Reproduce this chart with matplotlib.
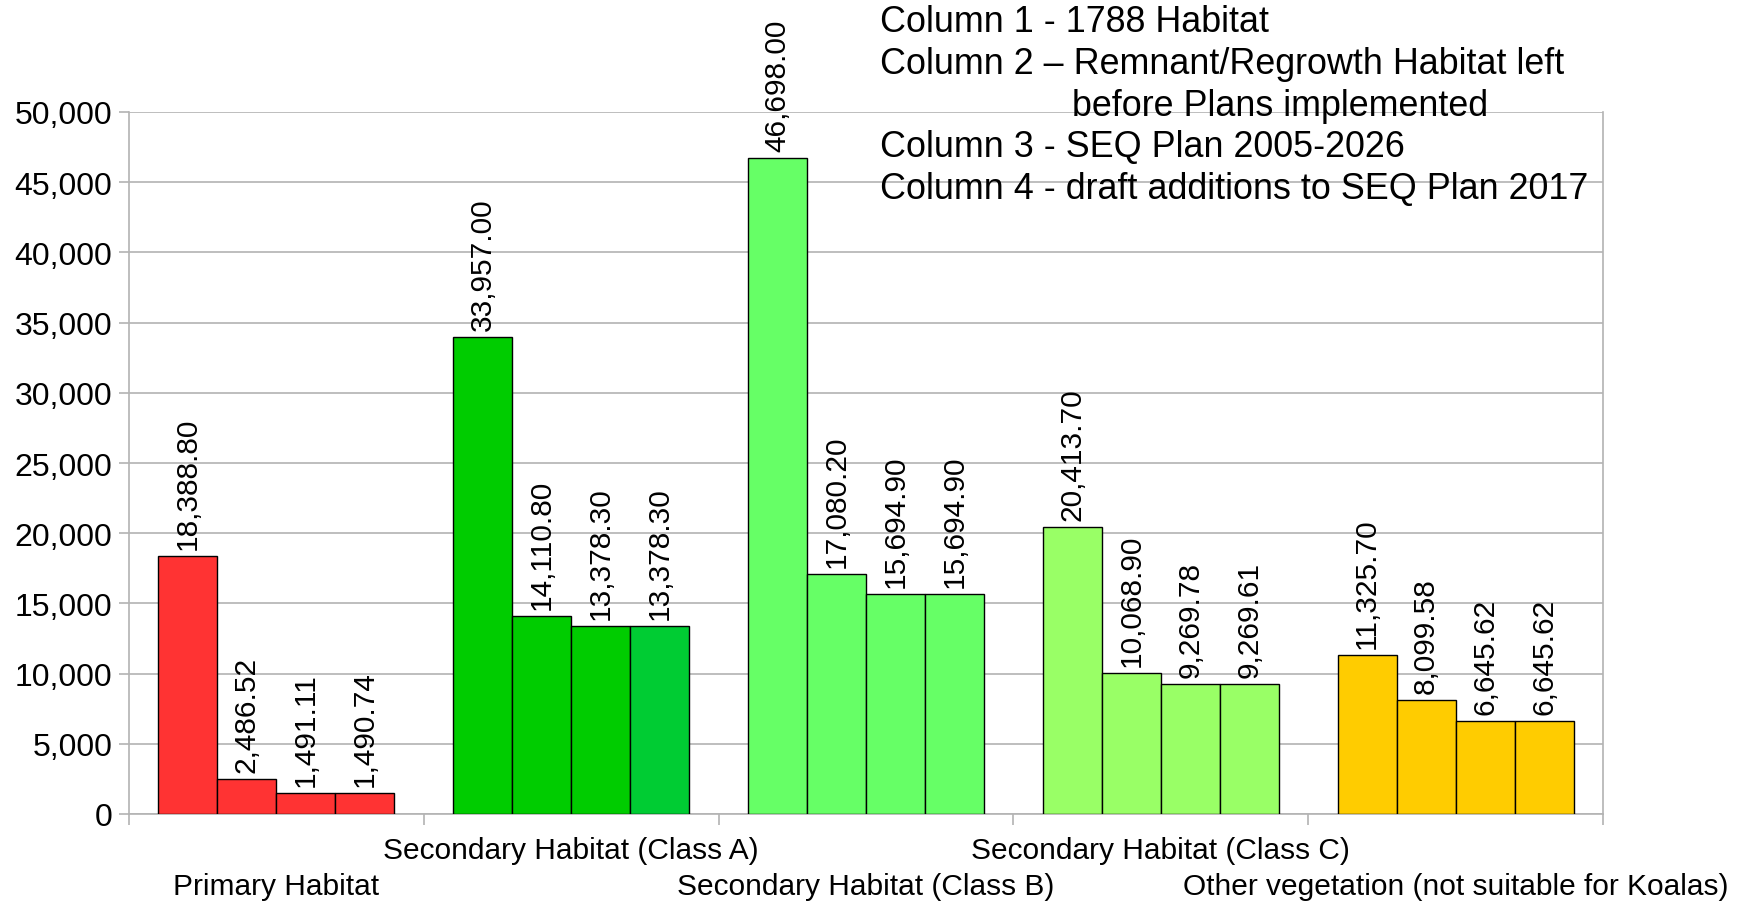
import matplotlib.pyplot as plt
import numpy as np
from matplotlib.ticker import FuncFormatter, MultipleLocator

categories = ["Primary Habitat", "Secondary Habitat (Class A)",
              "Secondary Habitat (Class B)", "Secondary Habitat (Class C)",
              "Other vegetation (not suitable for Koalas)"]

col1 = [18388.80, 33957.00, 46698.00, 20413.70, 11325.70]
col2 = [2486.52, 14110.80, 17080.20, 10068.90, 8099.58]
col3 = [1491.11, 13378.30, 15694.90, 9269.78, 6645.62]
col4 = [1490.74, 13378.30, 15694.90, 9269.61, 6645.62]

# one colour per bar (category x column)
bar_colors = [
    ["#ff3333", "#ff3333", "#ff3333", "#ff3333"],
    ["#00cc00", "#00cc00", "#00cc00", "#00cc33"],
    ["#66ff66", "#66ff66", "#66ff66", "#66ff66"],
    ["#99ff66", "#99ff66", "#99ff66", "#99ff66"],
    ["#ffcc00", "#ffcc00", "#ffcc00", "#ffcc00"],
]

legend_lines = ["Column 1 - 1788 Habitat",
                "Column 2 \u2013 Remnant/Regrowth Habitat left",
                "before Plans implemented",
                "Column 3 - SEQ Plan 2005-2026",
                "Column 4 - draft additions to SEQ Plan 2017"]

plt.rcParams['font.family'] = ['Liberation Sans', 'DejaVu Sans']
narrow = ['Liberation Sans Narrow', 'Liberation Sans', 'DejaVu Sans']
grid_c = "#b3b3b3"

fig = plt.figure(figsize=(17.4, 9.04), dpi=100)
ax = fig.add_axes([129 / 1740, 1 - 815 / 904, (1603 - 129) / 1740, 702 / 904])

series = [col1, col2, col3, col4]
w = 0.2
x = np.arange(len(categories))
for j, vals in enumerate(series):
    xs = x - 0.3 + j * w
    ax.bar(xs, vals, width=w, color=[c[j] for c in bar_colors],
           edgecolor="black", linewidth=1.0, zorder=3)
    for xi, v in zip(xs, vals):
        ax.annotate(f"{v:,.2f}", (xi, v), xytext=(0, 5),
                    textcoords="offset points", rotation=90,
                    ha="center", va="bottom", fontsize=21.5, zorder=4,
                    annotation_clip=False)

ax.set_xlim(-0.5, len(categories) - 0.5)
ax.set_ylim(0, 50000)
ax.yaxis.set_major_locator(MultipleLocator(5000))
ax.yaxis.set_major_formatter(FuncFormatter(lambda v, p: f"{v:,.0f}"))
ax.grid(axis="y", color=grid_c, linewidth=1.2, zorder=0)
ax.tick_params(axis="y", length=7, color=grid_c, width=1.2, labelsize=23, pad=5)

# category boundary ticks on the x axis
ax.set_xticks(np.arange(-0.5, len(categories)))
ax.set_xticklabels([])
ax.tick_params(axis="x", length=8, color=grid_c, width=1.2)

for side in ["left", "bottom", "right"]:
    ax.spines[side].set_color(grid_c)
    ax.spines[side].set_linewidth(1.2)
ax.spines["top"].set_visible(False)

# staggered category labels
tr = ax.get_xaxis_transform()
for i, name in enumerate(categories):
    yy = -36 / 702 if i % 2 == 1 else -72 / 702
    ax.text(i, yy, name, transform=tr, ha="center", va="center",
            fontsize=21.5, family=narrow)

# text legend at the top
legend_y = [23, 65, 106, 148, 190]
legend_x = [880, 880, 1072, 880, 880]
for txt, lx, ly in zip(legend_lines, legend_x, legend_y):
    fig.text(lx / 1740, 1 - ly / 904, txt, ha="left", va="center",
             fontsize=25.8, family=narrow)

fig.savefig("out.png", dpi=100)
